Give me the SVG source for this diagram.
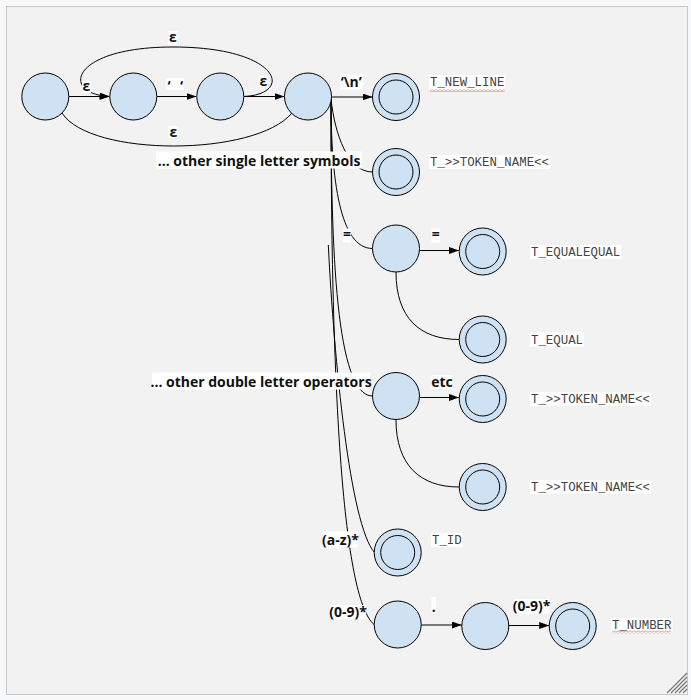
<svg xmlns="http://www.w3.org/2000/svg" width="691" height="700" viewBox="0 0 691 700">
<style>
.node{fill:#cfe2f3;stroke:#000;stroke-width:1}
.edge{fill:none;stroke:#000;stroke-width:1}
.lbl{font-family:"Open Sans","Liberation Sans",sans-serif;font-weight:bold;font-size:14px;fill:#111}
.tok{font-family:"Liberation Mono","Courier New",monospace;font-size:12.4px;fill:#444}
.bg{fill:#fff}
.grip{stroke:#777;stroke-width:1.2}
</style>
<defs>
<marker id="arr" markerUnits="userSpaceOnUse" markerWidth="11" markerHeight="8" refX="10" refY="3.5" orient="auto">
<path d="M0,0 L10,3.5 L0,7 z" fill="#000"/>
</marker>
<pattern id="wave" patternUnits="userSpaceOnUse" width="4" height="3">
<path d="M0,2.5 L2,0.5 L4,2.5" fill="none" stroke="#e05050" stroke-width="0.8"/>
</pattern>
</defs>
<rect x="0" y="0" width="691" height="700" fill="#f6f8fa"/>
<rect x="6.5" y="6.5" width="681" height="688" fill="#f2f2f2" stroke="#c8c8c8" stroke-width="1"/>

<g id="connectors">
<path class="edge" d="M69,96.5 L109.5,96.5" marker-end="url(#arr)"/>
<path class="edge" d="M156.8,96.5 L196.5,96.5" marker-end="url(#arr)"/>
<path class="edge" d="M243.8,96.5 L284.5,96.5" marker-end="url(#arr)"/>
<path class="edge" d="M244,96.5 C295,94 280,47 173,47 C70,47 60,94 109.5,96.5" marker-end="url(#arr)"/>
<path class="edge" d="M62,113 C90,157 255,157 292,113"/>
<path class="edge" d="M331.5,97 L372.5,97" marker-end="url(#arr)"/>
<path class="edge" d="M331,99 C335,135 348,172 372.5,172"/>
<path class="edge" d="M331,99 C331,180 340,248.5 372.5,248.5"/>
<path class="edge" d="M331,99 C331,250 336,396 372.5,396"/>
<path class="edge" d="M331,99 C331,420 345,600 374,624.5"/>
<path class="edge" d="M328.3,245 C334,360 350,525 374.5,552.5"/>
<path class="edge" d="M419.5,250.5 L459,250.5" marker-end="url(#arr)"/>
<path class="edge" d="M396,272 C396,318 420,339.5 459,339.5"/>
<path class="edge" d="M419.5,397.5 L459,397.5" marker-end="url(#arr)"/>
<path class="edge" d="M396,419.5 C396,465 420,487 459,487"/>
<path class="edge" d="M421.2,625 L461.8,625" marker-end="url(#arr)"/>
<path class="edge" d="M508.8,625.5 L549.2,625.5" marker-end="url(#arr)"/>

<rect class="bg" x="168" y="31" width="10" height="14"/>
<text class="lbl" x="173" y="41.5" text-anchor="middle">ε</text>
<rect class="bg" x="82" y="81" width="9" height="12"/>
<text class="lbl" x="86.3" y="91" text-anchor="middle">ε</text>
<rect class="bg" x="166" y="78" width="18" height="12"/>
<text class="lbl" y="91" text-anchor="middle"><tspan x="169">‘</tspan><tspan x="181.5">‘</tspan></text>
<rect class="bg" x="259" y="76" width="9" height="11"/>
<text class="lbl" x="263.3" y="86" text-anchor="middle">ε</text>
<rect class="bg" x="168.5" y="126" width="10" height="12"/>
<text class="lbl" x="173.3" y="136.5" text-anchor="middle">ε</text>
<rect class="bg" x="340" y="74.5" width="23" height="15"/>
<text class="lbl" x="351.3" y="86.5" text-anchor="middle">‘\n’</text>
<rect class="bg" x="156" y="151.5" width="206" height="17"/>
<text class="lbl" x="259" y="165.5" text-anchor="middle">… other single letter symbols</text>
<rect class="bg" x="342.7" y="228.5" width="8.5" height="14"/>
<text class="lbl" x="346.9" y="238.5" text-anchor="middle">=</text>
<rect class="bg" x="431.5" y="228.5" width="8.5" height="14"/>
<text class="lbl" x="435.8" y="238.5" text-anchor="middle">=</text>
<rect class="bg" x="152" y="372.5" width="218" height="17"/>
<text class="lbl" x="261" y="386.5" text-anchor="middle">… other double letter operators</text>
<rect class="bg" x="431.5" y="375" width="21" height="14"/>
<text class="lbl" x="442" y="386.5" text-anchor="middle">etc</text>
<rect class="bg" x="323" y="531.5" width="35" height="16"/>
<text class="lbl" x="340.5" y="545" text-anchor="middle">(a-z)*</text>
<rect class="bg" x="330" y="605" width="36" height="14"/>
<text class="lbl" x="348" y="616.5" text-anchor="middle">(0-9)*</text>
<rect class="bg" x="431.5" y="597" width="4.5" height="16"/>
<text class="lbl" x="433.7" y="612" text-anchor="middle">.</text>
<rect class="bg" x="513.7" y="599" width="35.6" height="15"/>
<text class="lbl" x="531.5" y="611" text-anchor="middle">(0-9)*</text>
</g>

<g id="n0"><circle class="node" cx="45.3" cy="96.5" r="23.5"/></g>
<g id="n1"><circle class="node" cx="133.3" cy="96.5" r="23.5"/></g>
<g id="n2"><circle class="node" cx="220.3" cy="96.5" r="23.5"/></g>
<g id="n3"><circle class="node" cx="308" cy="96.5" r="23.5"/></g>

<g id="f_newline"><circle class="node" cx="396" cy="97" r="23.5"/><circle class="node" cx="396" cy="97" r="17"/>
<rect class="bg" x="429" y="75" width="76.4" height="14"/><text class="tok" x="430" y="86">T_NEW_LINE</text>
<rect x="430" y="89" width="75" height="3" fill="url(#wave)"/></g>
<g id="f_single"><circle class="node" cx="396" cy="172" r="23.5"/><circle class="node" cx="396" cy="172" r="17"/>
<rect class="bg" x="429" y="155" width="121" height="14"/><text class="tok" x="430" y="166">T_&gt;&gt;TOKEN_NAME&lt;&lt;</text></g>
<g id="n_eq"><circle class="node" cx="396" cy="248.5" r="23.5"/></g>
<g id="f_eqeq"><circle class="node" cx="482.7" cy="251.5" r="23.5"/><circle class="node" cx="482.7" cy="251.5" r="17"/>
<rect class="bg" x="530" y="245" width="91.3" height="14"/><text class="tok" x="531" y="256">T_EQUALEQUAL</text></g>
<g id="f_eq"><circle class="node" cx="482.7" cy="339.5" r="23.5"/><circle class="node" cx="482.7" cy="339.5" r="17"/>
<rect class="bg" x="530" y="332.5" width="54" height="14"/><text class="tok" x="531" y="343.5">T_EQUAL</text></g>
<g id="n_dbl"><circle class="node" cx="396" cy="396" r="23.5"/></g>
<g id="f_tok1"><circle class="node" cx="482.7" cy="399" r="23.5"/><circle class="node" cx="482.7" cy="399" r="17"/>
<rect class="bg" x="530" y="392" width="121" height="14"/><text class="tok" x="531" y="403">T_&gt;&gt;TOKEN_NAME&lt;&lt;</text></g>
<g id="f_tok2"><circle class="node" cx="482.7" cy="487" r="23.5"/><circle class="node" cx="482.7" cy="487" r="17"/>
<rect class="bg" x="530" y="480" width="121" height="14"/><text class="tok" x="531" y="491">T_&gt;&gt;TOKEN_NAME&lt;&lt;</text></g>
<g id="f_id"><circle class="node" cx="397.7" cy="552.5" r="23.5"/><circle class="node" cx="397.7" cy="552.5" r="17"/>
<rect class="bg" x="431" y="533" width="31.8" height="14"/><text class="tok" x="432" y="544">T_ID</text></g>
<g id="n_num0"><circle class="node" cx="397.7" cy="624.5" r="23.5"/></g>
<g id="n_num1"><circle class="node" cx="485.3" cy="626" r="23.5"/></g>
<g id="f_number"><circle class="node" cx="572.7" cy="626" r="23.5"/><circle class="node" cx="572.7" cy="626" r="17"/>
<rect class="bg" x="611" y="618" width="61.5" height="14"/><text class="tok" x="612" y="629">T_NUMBER</text>
<rect x="612" y="630.5" width="59" height="3" fill="url(#wave)"/></g>

<path class="grip" d="M667,693 L687,673 M671,693 L687,677 M675,693 L687,681 M679,693 L687,685 M683,693 L687,689"/>
</svg>
